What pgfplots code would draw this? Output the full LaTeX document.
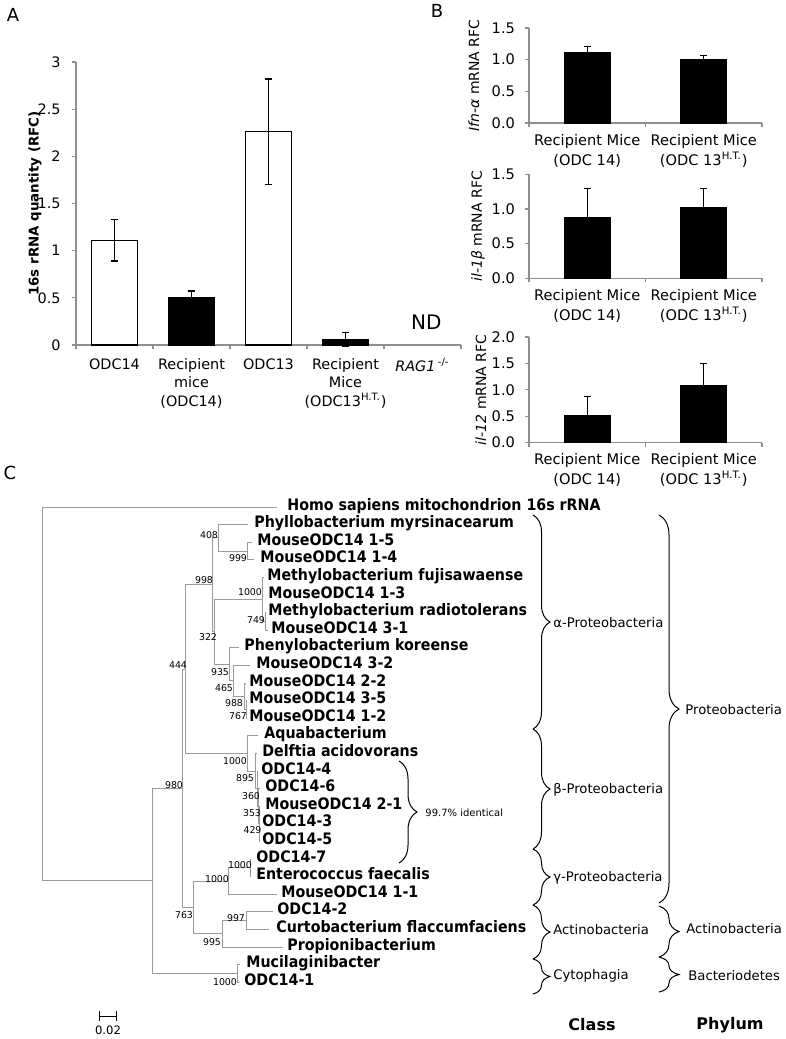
\documentclass[border=0pt]{standalone}
\usepackage{fontspec}
\setmainfont{DejaVu Sans}
\newfontfamily\treefont[FakeStretch=0.9]{DejaVu Sans}
\usepackage{pgfplots}
\pgfplotsset{compat=1.18}
\usetikzlibrary{decorations.pathreplacing}
\definecolor{axisgray}{HTML}{8F8F8F}
\definecolor{treegray}{HTML}{9A9A9A}

% fonts
\newcommand\fA{\fontsize{7.2}{9.2}\selectfont}
\newcommand\fB{\fontsize{7.3}{10}\selectfont}
\newcommand\fLeaf{\treefont\bfseries\fontsize{7.9}{9}\selectfont}
\newcommand\fBoot{\fontsize{4.7}{5}\selectfont}
\newcommand\fClass{\fontsize{6.6}{8}\selectfont}

% tree helpers (pixel coordinates, y downwards)
\newcommand\leaf[3]{\node[anchor=base west, inner sep=0pt, font=\fLeaf] at (axis cs:#1,#2) {#3};}
\newcommand\bs[3]{\node[inner sep=0pt, font=\fBoot] at (axis cs:#1,#2) {#3};}
\newcommand\br[1]{\addplot[tl] coordinates {#1};}
\newcommand\clbrace[4]{% x, top, bottom, amplitude
  \draw[decorate, decoration={brace, amplitude=#4}, line width=0.5pt] (axis cs:#1,#2) -- (axis cs:#1,#3);}

\pgfplotsset{
  tl/.style={no markers, line width=0.5pt, color=treegray},
  ebar/.style={error bars/y explicit,
    error bars/error mark=-,
    error bars/error bar style={line width=0.6pt, black},
    error bars/error mark options={rotate=90, black, mark size=1.7pt, line width=0.6pt}},
  catticks/.style={% category labels at integers, separator ticks between them
    xtick style={draw=none},
    extra x ticks={#1}, extra x tick labels={},
    extra x tick style={xtick style={draw=axisgray, line width=0.6pt}},
  },
  bpanel/.style={
    anchor=south west, scale only axis, width=116.5pt,
    xmin=0.5, xmax=2.5, ymin=0,
    axis lines=left, axis line style={-, draw=axisgray, line width=0.6pt},
    tick style={draw=axisgray, line width=0.6pt},
    tick align=outside, major tick length=2pt,
    xtick={1,2},
    xticklabels={{Recipient Mice\\(ODC 14)},{Recipient Mice\\(ODC 13\textsuperscript{H.T.})}},
    catticks={0.5,1.5,2.5},
    xticklabel style={font=\fB, align=center},
    /pgf/number format/assume math mode=true,
    yticklabel style={font=\fB, xshift=-1.5pt, /pgf/number format/.cd, fixed, fixed zerofill, precision=1},
    clip=false,
  },
  bbar/.style={ybar, bar width=0.395, bar shift=0pt, fill=black, draw=black, line width=0.5pt,
    ebar, error bars/y dir=plus},
}

\begin{document}
\begin{tikzpicture}

% ---------------- panel C (tree) and panel letters, whole canvas in pixels
\begin{axis}[at={(0pt,0pt)}, anchor=north west, scale only axis,
  width=393pt, height=519.5pt, xmin=0, xmax=786, ymin=0, ymax=1039,
  y dir=reverse, hide axis, clip=false]

\node[font=\fontsize{9}{10}\selectfont] at (axis cs:13,15) {A};
\node[font=\fontsize{9}{10}\selectfont] at (axis cs:437,11) {B};
\node[font=\fontsize{9}{10}\selectfont] at (axis cs:10,473) {C};

% branches
\br{(277,507) (42,507) (42,880.8) (152,880.8)}
\br{(182,788.25) (152,788.25) (152,973.4) (237,973.4)}
\br{(240,964.6) (237,964.6) (237,982.2) (239,982.2)}
\br{(185,669.1) (182,669.1) (182,907.4) (193,907.4)}
\br{(212,584.8) (185,584.8) (185,753.4) (247,753.4)}
\br{(218,537.8) (212,537.8) (212,631.85) (214,631.85)}
\br{(248,524.6) (218,524.6) (218,551) (247,551)}
\br{(252,542.2) (247,542.2) (247,559.8) (254,559.8)}
\br{(262,599.4) (214,599.4) (214,664.3) (229,664.3)}
\br{(262,577.4) (262,577.4) (262,621.4) (265,621.4)}
\br{(262,577.4) (264,577.4)}
\br{(262,595) (263,595)}
\br{(266,612.6) (265,612.6) (265,630.2) (268,630.2)}
\br{(239,647.8) (229,647.8) (229,680.8) (233,680.8)}
\br{(250,665.4) (233,665.4) (233,696.2) (244,696.2)}
\br{(246,683) (244,683) (244,709.4) (246,709.4)}
\br{(247,700.6) (246,700.6) (246,718.2) (247,718.2)}
\br{(258,735.8) (247,735.8) (247,771) (255,771)}
\br{(257,753.4) (255,753.4) (255,788.6) (257,788.6)}
\br{(257,771) (257,806.2) (258,806.2)}
\br{(260,788.6) (258,788.6) (258,823.8) (259,823.8)}
\br{(260,806.2) (259,806.2) (259,841.4) (260,841.4)}
\br{(228,881) (193,881) (193,933.8) (222,933.8)}
\br{(250,867.8) (228,867.8) (228,894.2) (277,894.2)}
\br{(251,859) (250,859) (250,876.6) (251,876.6)}
\br{(246,920.6) (222,920.6) (222,947) (283,947)}
\br{(273,911.8) (246,911.8) (246,929.4) (269,929.4)}

% scale bar
\addplot[black, line width=0.5pt] coordinates {(99,1016) (116,1016)};
\addplot[black, line width=0.5pt] coordinates {(99,1011) (99,1021)};
\addplot[black, line width=0.5pt] coordinates {(116,1011) (116,1021)};
\node[font=\fontsize{5.8}{7}\selectfont] at (axis cs:108,1030) {0.02};

% leaves
\leaf{287}{510}{Homo sapiens mitochondrion 16s rRNA}
\leaf{254}{527.6}{Phyllobacterium myrsinacearum}
\leaf{257}{545.2}{MouseODC14 1-5}
\leaf{260}{562.8}{MouseODC14 1-4}
\leaf{267}{580.4}{Methylobacterium fujisawaense}
\leaf{268}{598}{MouseODC14 1-3}
\leaf{268}{615.6}{Methylobacterium radiotolerans}
\leaf{271}{633.2}{MouseODC14 3-1}
\leaf{244}{650.8}{Phenylobacterium koreense}
\leaf{256}{668.4}{MouseODC14 3-2}
\leaf{249}{686}{MouseODC14 2-2}
\leaf{249}{703.6}{MouseODC14 3-5}
\leaf{249}{721.2}{MouseODC14 1-2}
\leaf{264}{738.8}{Aquabacterium}
\leaf{262}{756.4}{Delftia acidovorans}
\leaf{261}{774}{ODC14-4}
\leaf{265}{791.6}{ODC14-6}
\leaf{265}{809.2}{MouseODC14 2-1}
\leaf{262}{826.8}{ODC14-3}
\leaf{262}{844.4}{ODC14-5}
\leaf{256}{862}{ODC14-7}
\leaf{256}{879.6}{Enterococcus faecalis}
\leaf{281}{897.2}{MouseODC14 1-1}
\leaf{277}{914.8}{ODC14-2}
\leaf{276}{932.4}{Curtobacterium flaccumfaciens}
\leaf{287}{950}{Propionibacterium}
\leaf{246}{967.6}{Mucilaginibacter}
\leaf{244}{985.2}{ODC14-1}

% bootstrap values
\bs{209}{535}{408}
\bs{238}{558}{999}
\bs{204}{580}{998}
\bs{250}{592}{1000}
\bs{256}{620}{749}
\bs{208}{637}{322}
\bs{178}{665}{444}
\bs{220}{672}{935}
\bs{224}{688}{465}
\bs{234}{703}{988}
\bs{238}{716}{767}
\bs{235}{761}{1000}
\bs{245}{778}{895}
\bs{251}{796}{360}
\bs{252}{813}{353}
\bs{252.5}{830}{429}
\bs{174}{785}{980}
\bs{240}{865}{1000}
\bs{217}{879}{1000}
\bs{184}{915}{763}
\bs{236}{918}{997}
\bs{212}{942}{995}
\bs{225}{982}{1000}

% identical-sequence bracket
\clbrace{399}{761}{863}{9pt}
\node[anchor=west, inner sep=0pt, font=\fontsize{5}{6}\selectfont] at (axis cs:425,813) {99.7\% identical};

% class braces
\clbrace{533}{515}{729}{8.5pt}
\clbrace{533}{729}{849}{8.5pt}
\clbrace{533}{849}{905}{8.5pt}
\clbrace{533}{905}{959}{8.5pt}
\clbrace{533}{959}{994}{8.5pt}
\node[anchor=west, inner sep=0pt, font=\fClass] at (axis cs:553,623) {α-Proteobacteria};
\node[anchor=west, inner sep=0pt, font=\fClass] at (axis cs:553,790) {β-Proteobacteria};
\node[anchor=west, inner sep=0pt, font=\fClass] at (axis cs:553,878) {γ-Proteobacteria};
\node[anchor=west, inner sep=0pt, font=\fClass] at (axis cs:553,930) {Actinobacteria};
\node[anchor=west, inner sep=0pt, font=\fClass] at (axis cs:553,976) {Cytophagia};

% phylum braces
\clbrace{659}{515}{903}{10pt}
\clbrace{659}{906}{957}{10pt}
\clbrace{659}{957}{992}{10pt}
\node[anchor=west, inner sep=0pt, font=\fClass] at (axis cs:685,710) {Proteobacteria};
\node[anchor=west, inner sep=0pt, font=\fClass] at (axis cs:686,929) {Actinobacteria};
\node[anchor=west, inner sep=0pt, font=\fClass] at (axis cs:688,976) {Bacteriodetes};

\node[font=\bfseries\fontsize{8}{9}\selectfont] at (axis cs:592,1025) {Class};
\node[font=\bfseries\fontsize{8}{9}\selectfont] at (axis cs:730,1025) {Phylum};
\end{axis}

% ---------------- panel A
\begin{axis}[
  at={(38pt,-172.5pt)}, anchor=south west,
  scale only axis, width=192.5pt, height=141.5pt,
  xmin=0.5, xmax=5.5, ymin=0, ymax=3,
  axis lines=left, axis line style={-, draw=axisgray, line width=0.6pt},
  tick style={draw=axisgray, line width=0.6pt},
  tick align=outside, major tick length=2.2pt,
  ytick={0,0.5,1,1.5,2,2.5,3},
  xtick={1,2,3,4,5},
  xticklabels={ODC14,{Recipient\\mice\\(ODC14)},ODC13,{Recipient\\Mice\\(ODC13\textsuperscript{H.T.})},{\textit{RAG1}\,\textsuperscript{-/-}}},
  catticks={0.5,1.5,2.5,3.5,4.5,5.5},
  xticklabel style={font=\fA, align=center, anchor=north, yshift=-1pt},
  /pgf/number format/assume math mode=true,
  yticklabel style={font=\fA, xshift=-2pt},
  ylabel={16s rRNA quantity (RFC)},
  every axis y label/.style={at={(axis description cs:-0.1065,0.5)}, rotate=90, anchor=center,
    font=\bfseries\fontsize{6.7}{8}\selectfont},
  clip=false,
]
\addplot[ybar, bar width=0.6, bar shift=0pt, fill=white, draw=black, line width=0.6pt,
  ebar, error bars/y dir=both]
  coordinates {(1,1.11) +- (0,0.22) (3,2.26) +- (0,0.56)};
\addplot[ybar, bar width=0.6, bar shift=0pt, fill=black, draw=black, line width=0.6pt,
  ebar, error bars/y dir=both]
  coordinates {(2,0.506) +- (0,0.066) (4,0.06) +- (0,0.07)};
\node[font=\fontsize{10}{12}\selectfont] at (axis cs:5.05,0.24) {ND};
\end{axis}

% ---------------- panel B
\begin{axis}[bpanel, at={(264.5pt,-61.5pt)}, height=47.5pt, ymax=1.5,
  ytick={0,0.5,1,1.5},
  ylabel={\textit{Ifn-α} mRNA RFC},
  every axis y label/.style={at={(axis description cs:-0.236,0.5)}, rotate=90, anchor=center, font=\fontsize{7}{8}\selectfont}]
\addplot[bbar] coordinates {(1,1.11) +- (0,0.10) (2,1.00) +- (0,0.07)};
\end{axis}

\begin{axis}[bpanel, at={(264.5pt,-139.15pt)}, height=52pt, ymax=1.5,
  ytick={0,0.5,1,1.5},
  ylabel={\textit{il-1β} mRNA RFC},
  every axis y label/.style={at={(axis description cs:-0.219,0.5)}, rotate=90, anchor=center, font=\fontsize{7}{8}\selectfont}]
\addplot[bbar] coordinates {(1,0.88) +- (0,0.42) (2,1.02) +- (0,0.28)};
\end{axis}

\begin{axis}[bpanel, at={(264.5pt,-221.25pt)}, height=52.75pt, ymax=2,
  ytick={0,0.5,1,1.5,2},
  ylabel={\textit{il-12} mRNA RFC},
  every axis y label/.style={at={(axis description cs:-0.206,0.5)}, rotate=90, anchor=center, font=\fontsize{7}{8}\selectfont}]
\addplot[bbar] coordinates {(1,0.51) +- (0,0.36) (2,1.09) +- (0,0.41)};
\end{axis}

\pgfresetboundingbox
\path (0pt,0pt) rectangle (393pt,-519.5pt);
\end{tikzpicture}
\end{document}
